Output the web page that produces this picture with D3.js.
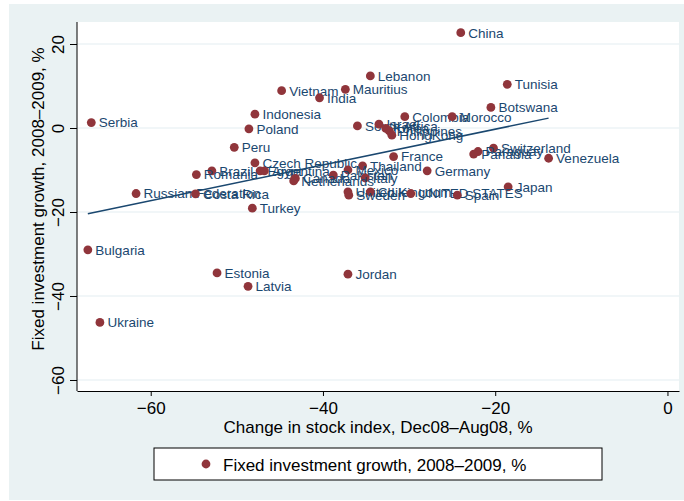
<!DOCTYPE html>
<html>
<head>
<meta charset="utf-8">
<script src="https://cdn.jsdelivr.net/npm/d3@7"></script>
<style>
  body { margin: 0; background: #fff; }
  text { font-family: "Liberation Sans", Arial, sans-serif; }
</style>
</head>
<body>
<svg id="chart" width="684" height="501"></svg>
<script>
var countries = ["China", "Lebanon", "Tunisia", "Mauritius", "Vietnam", "India", "Botswana", "Indonesia",
    "Colombia", "Morocco", "Serbia", "South Africa", "Israel", "Poland", "Korea", "Philippines", "HongKong",
    "Peru", "Switzerland", "Paraguay", "Panama", "France", "Venezuela", "Czech Republic", "Thailand",
    "Mexico", "Germany", "Brazil", "Egypt", "Argentina", "Pakistan", "Italy", "Romania", "Canada",
    "Netherlands", "Japan", "United Kingdom", "Chile", "UNITED STATES", "Russian Federation", "Costa Rica",
    "Sweden", "Spain", "Turkey", "Bulgaria", "Estonia", "Jordan", "Latvia", "Ukraine"];

var stockChange = [-24.0, -34.5, -18.6, -37.4, -44.8, -40.4, -20.5, -47.9,
    -30.5, -25.0, -66.9, -36.0, -33.5, -48.6, -32.7, -32.3, -32.0,
    -50.3, -20.2, -22.0, -22.5, -31.8, -13.8, -47.9, -35.4,
    -37.1, -27.9, -52.9, -47.3, -46.8, -38.8, -35.1, -54.7, -43.2,
    -43.4, -18.5, -37.1, -34.5, -29.8, -61.7, -54.8,
    -37.0, -24.4, -48.2, -67.3, -52.3, -37.1, -48.7, -65.9];

var investGrowth = [22.7, 12.4, 10.4, 9.2, 8.9, 7.2, 4.9, 3.3,
    2.7, 2.7, 1.3, 0.5, 0.9, -0.2, -0.1, -0.7, -1.7,
    -4.6, -4.8, -5.6, -6.2, -6.8, -7.2, -8.3, -9.0,
    -10.0, -10.2, -10.2, -10.2, -10.2, -11.2, -11.9, -11.1, -12.0,
    -12.6, -14.0, -15.2, -15.2, -15.6, -15.6, -15.7,
    -16.0, -16.0, -19.1, -29.0, -34.5, -34.8, -37.7, -46.3];

var xTicks = [-60, -40, -20, 0];
var yTicks = [-60, -40, -20, 0, 20];

var xTitle = "Change in stock index, Dec08\u2013Aug08, %";
var yTitle = "Fixed investment growth, 2008\u20132009, %";
var legendLabel = "Fixed investment growth, 2008\u20132009, %";

var data = countries.map(function(c, i) {
    return { name: c, x: stockChange[i], y: investGrowth[i] };
});

var svg = d3.select("#chart");

var plotLeft = 77, plotRight = 679, plotTop = 22, plotBottom = 391;

var x = d3.scaleLinear().domain([-68.56, 1.34]).range([plotLeft, plotRight]);
var y = d3.scaleLinear().domain([-62.62, 25.24]).range([plotBottom, plotTop]);

// graph region + plot region
svg.append("rect").attr("x", 9).attr("y", 4).attr("width", 675).attr("height", 496).attr("fill", "#eaf2f3");
svg.append("rect").attr("x", plotLeft).attr("y", plotTop)
    .attr("width", plotRight - plotLeft).attr("height", plotBottom - plotTop).attr("fill", "#fff");

svg.append("g")
    .selectAll("line")
    .data(yTicks)
    .enter().append("line")
    .attr("x1", plotLeft).attr("x2", plotRight)
    .attr("y1", function(d) { return y(d); })
    .attr("y2", function(d) { return y(d); })
    .attr("stroke", "#e4eef1")
    .attr("stroke-width", 1.2);

var fmt = function(d) { return d < 0 ? "\u2212" + Math.abs(d) : "" + d; };

var xAxis = d3.axisBottom(x).tickValues(xTicks).tickFormat(fmt).tickSize(5).tickSizeOuter(0);
var gx = svg.append("g")
    .attr("transform", "translate(0," + plotBottom + ")")
    .call(xAxis);
gx.select(".domain").attr("stroke", "#000");
gx.selectAll(".tick line").attr("stroke", "#000");
gx.selectAll(".tick text").attr("fill", "#000").attr("font-size", 17).attr("y", 0).attr("dy", "22.5px");

var yAxis = d3.axisLeft(y).tickValues(yTicks).tickFormat(fmt).tickSize(7).tickSizeOuter(0);
var gy = svg.append("g")
    .attr("transform", "translate(" + plotLeft + ",0)")
    .call(yAxis);
gy.select(".domain").attr("stroke", "#000").attr("d", "M0," + plotBottom + "V" + plotTop);
gy.selectAll(".tick line").attr("stroke", "#000");
gy.selectAll(".tick text")
    .attr("fill", "#000").attr("font-size", 17)
    .attr("x", null).attr("dy", null)
    .attr("text-anchor", "middle")
    .attr("transform", "translate(-13,0) rotate(-90)");

svg.append("text")
    .attr("x", 378)
    .attr("y", 433)
    .attr("text-anchor", "middle")
    .attr("font-size", 17)
    .text(xTitle);

svg.append("text")
    .attr("transform", "translate(43.5,199) rotate(-90)")
    .attr("text-anchor", "middle")
    .attr("font-size", 17)
    .text(yTitle);

// linear fit over the range of x
var xm = d3.mean(data, function(d) { return d.x; });
var ym = d3.mean(data, function(d) { return d.y; });
var sxy = d3.sum(data, function(d) { return (d.x - xm) * (d.y - ym); });
var sxx = d3.sum(data, function(d) { return (d.x - xm) * (d.x - xm); });
var b = sxy / sxx, a = ym - b * xm;
var xExt = d3.extent(data, function(d) { return d.x; });

svg.append("path")
    .datum(xExt)
    .attr("d", d3.line()
        .x(function(d) { return x(d); })
        .y(function(d) { return y(a + b * d); }))
    .attr("fill", "none")
    .attr("stroke", "#1a476f")
    .attr("stroke-width", 1.5);

var pts = svg.append("g")
    .selectAll("g")
    .data(data)
    .enter().append("g")
    .attr("transform", function(d) {
        return "translate(" + x(d.x) + "," + y(d.y) + ")";
    });

pts.append("circle")
    .attr("r", 4.4)
    .attr("fill", "#90353b");

pts.append("text")
    .attr("x", 7.5)
    .attr("dy", "0.36em")
    .attr("font-size", 13.5)
    .attr("fill", "#1a476f")
    .text(function(d) { return d.name; });

// legend
var lg = svg.append("g");
lg.append("rect")
    .attr("x", 154).attr("y", 448).attr("width", 448).attr("height", 32)
    .attr("fill", "#fff").attr("stroke", "#000").attr("stroke-width", 1);
lg.append("circle").attr("cx", 206).attr("cy", 464).attr("r", 4.4).attr("fill", "#90353b");
lg.append("text").attr("x", 223).attr("y", 470.5).attr("font-size", 17).text(legendLabel);
</script>
</body>
</html>
